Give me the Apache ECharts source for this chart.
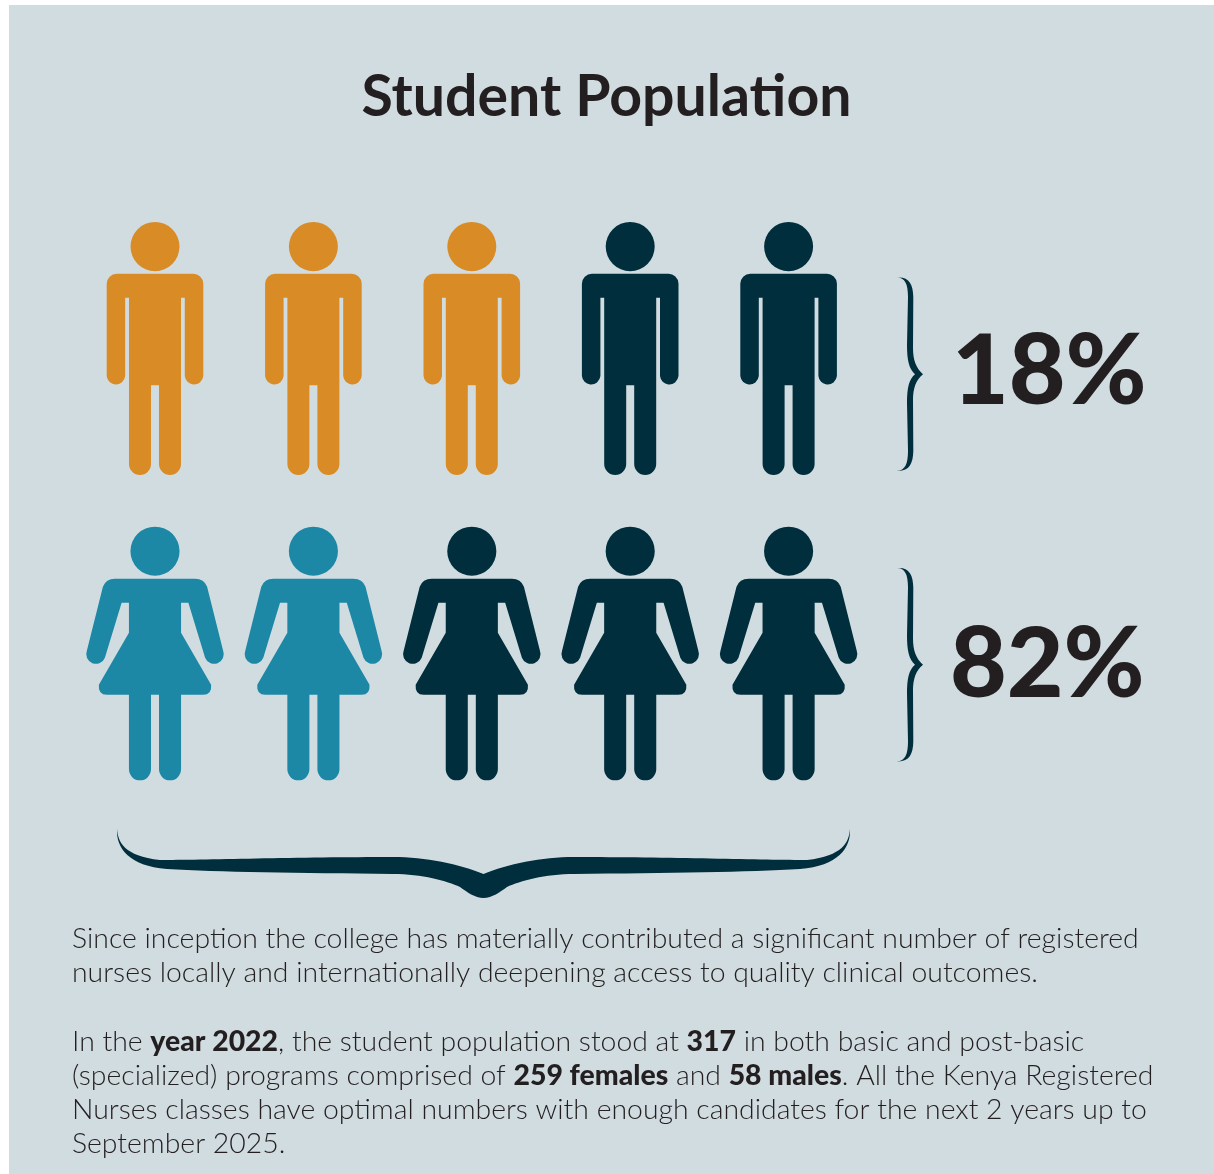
<!DOCTYPE html>
<html>
<head>
<meta charset="utf-8">
<style>html,body{margin:0;padding:0;background:#fff}#main{width:1214px;height:1174px}</style>
<script src="https://cdn.jsdelivr.net/npm/echarts@6/dist/echarts.min.js"></script>
</head>
<body>
<div id="main"></div>
<script>
// Student population, 2022
const titleText = 'Student Population';
const slots = ['1', '2', '3', '4', '5'];
const groups = ['Male', 'Female'];
const percentages = [18, 82];
const highlightedFigures = [3, 2];
const highlightColors = ['#d98b26', '#1c88a6'];
const baseColor = '#002e3d';
const inkColor = '#231f20';
const bodyLines = [
  'Since inception the college has materially contributed a significant number of registered',
  'nurses locally and internationally deepening access to quality clinical outcomes.',
  '',
  'In the {b|year 2022}, the student population stood at {b|317} in both basic and post-basic',
  '(specialized) programs comprised of {b|259 females} and {b|58 males}. All the Kenya Registered',
  'Nurses classes have optimal numbers with enough candidates for the next 2 years up to',
  'September 2025.'
];

// Pictogram outlines, drawn around a vertical centre line at x = 0
const maleGlyph = 'path://M-24.5 24.5A24.5 24.5 0 1 0 24.5 24.5A24.5 24.5 0 1 0 -24.5 24.5Z' +
  'M-38 51.5L38 51.5A10 10 0 0 1 48.3 61.5L48.3 153.5A9.3 9.3 0 0 1 29.8 153.5L29.8 75.5L26 75.5L26 241A11 11 0 0 1 4 241L4 162.5L-4 162.5L-4 241A11 11 0 0 1 -26 241L-26 75.5L-29.8 75.5L-29.8 153.5A9.3 9.3 0 0 1 -48.3 153.5L-48.3 61.5A10 10 0 0 1 -38 51.5Z';
const femaleGlyph = 'path://M-24.5 24.5A24.5 24.5 0 1 0 24.5 24.5A24.5 24.5 0 1 0 -24.5 24.5Z' +
  'M-40 52L40 52Q49 52 52 60L68 124A9.5 9.5 0 0 1 50 131L33.3 76L26 76L26 106L56 158Q57 168 48 168L26 168L26 242.7A11 11 0 0 1 4 242.7L4 168L-4 168L-4 242.7A11 11 0 0 1 -26 242.7L-26 168L-48 168Q-57 168 -56 158L-26 106L-26 76L-33.3 76L-50 131A9.5 9.5 0 0 1 -68 124L-52 60Q-49 52 -40 52Z';
const glyphs = [maleGlyph, femaleGlyph];
const glyphSizes = [[96.6, 253], [137.6, 253.7]];

// Curly brackets
const sideBrace = 'M897 277.5C905 277.5 908 284 908 297L907 345C907 360 909 369 915 374.2C909 379 907 388 907 403L908 451C908 464 905 470.5 897 470.9C909 471.5 913 464 913.3 451L913 400C913 388 916 380 923 374.2C916 368 913 360 913 348L913.3 297C913 284 909 276.5 897 277.5Z';
const bottomBrace = 'M117 829C118 842 124 856 160 860C200 860 300 857 393 857C425 857 460 864 483.5 874C507 864 542 857 574 857C667 857 767 860 807 860C843 856 849 842 850 829C851 848 838 866 800 869C750 872 667 873 574 874C545 874 520 881 507 887C500 892 492 898 483.5 898C475 898 467 892 460 887C447 881 422 874 393 874C300 873 217 872 167 869C129 866 116 848 117 829Z';
const braces = [
  { name: 'Male', pathData: sideBrace, shift: 0 },
  { name: 'Female', pathData: sideBrace, shift: 290.5 },
  { name: 'All students', pathData: bottomBrace, shift: 0 }
];

const labelPlacement = [
  { distance: 115, offset: [0, 24] },
  { distance: 92.5, offset: [0, 12] }
];

const figureSeries = groups.map((group, row) => ({
  type: 'scatter',
  name: group,
  clip: false,
  silent: true,
  symbol: glyphs[row],
  symbolSize: glyphSizes[row],
  data: slots.map((slot, i) => ({
    value: [slot, group],
    itemStyle: { color: i < highlightedFigures[row] ? highlightColors[row] : baseColor, opacity: 1 },
    label: i === slots.length - 1 ? {
      show: true,
      position: 'right',
      distance: labelPlacement[row].distance,
      offset: labelPlacement[row].offset,
      formatter: percentages[row] + '%',
      fontFamily: 'Lato',
      fontWeight: 900,
      fontSize: 98,
      color: inkColor
    } : { show: false }
  }))
}));

const braceSeries = {
  type: 'custom',
  coordinateSystem: 'none',
  silent: true,
  data: braces.map(b => b.name),
  renderItem: params => {
    const brace = braces[params.dataIndex];
    return {
      type: 'path',
      y: brace.shift,
      shape: { pathData: brace.pathData },
      style: { fill: baseColor }
    };
  }
};

const bodyText = bodyLines.map((line, i) => line ? {
  type: 'text',
  x: 72,
  y: 939 + i * 34.2,
  silent: true,
  style: {
    text: line,
    fontFamily: 'Lato',
    fontWeight: 300,
    fontSize: 28.4,
    fill: inkColor,
    verticalAlign: 'middle',
    rich: { b: { fontFamily: 'Lato', fontWeight: 900, fontSize: 28.4, fill: inkColor, verticalAlign: 'middle' } }
  }
} : null).filter(Boolean);

const chart = echarts.init(document.getElementById('main'), null, { renderer: 'canvas' });
chart.setOption({
  animation: false,
  backgroundColor: '#ffffff',
  title: {
    text: titleText,
    left: 601.5,
    top: 64,
    textAlign: 'center',
    textStyle: { fontFamily: 'Lato', fontWeight: 'bold', fontSize: 57.2, color: inkColor }
  },
  grid: { left: 75.8, top: 196, width: 792, height: 610 },
  xAxis: { type: 'category', data: slots, show: false },
  yAxis: { type: 'category', data: groups, inverse: true, show: false },
  series: figureSeries.concat(braceSeries),
  graphic: [
    { type: 'rect', z: -1, silent: true, shape: { x: 9, y: 5, width: 1205, height: 1169 }, style: { fill: '#d1dce0' } }
  ].concat(bodyText)
});
</script>
</body>
</html>
